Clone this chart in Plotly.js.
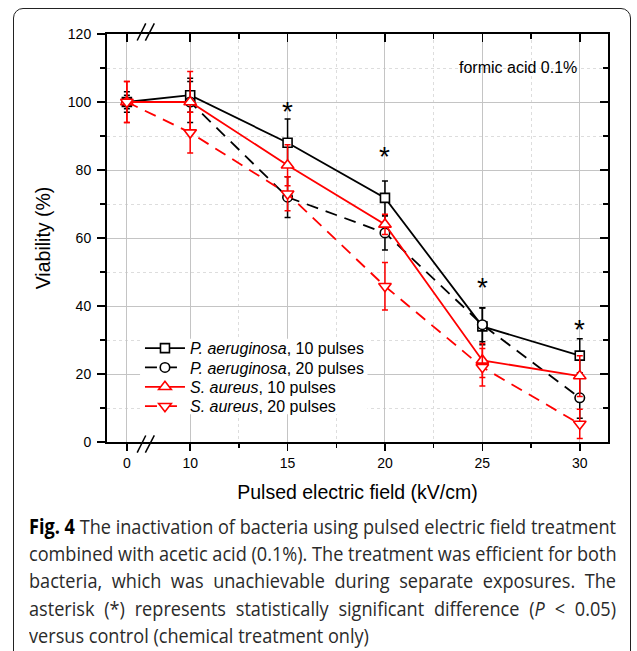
<!DOCTYPE html>
<html>
<head>
<meta charset="utf-8">
<script src="https://cdn.plot.ly/plotly-3.0.1.min.js"></script>
<style>
  html, body { margin: 0; padding: 0; background: #fff; }
  #wrap { position: relative; width: 637px; height: 651px; overflow: hidden; }
  #frame { position: absolute; left: 13px; top: 8px; width: 618px; height: 700px;
           border: 1.5px solid #222; border-radius: 10px; box-sizing: border-box; }
  #chart { position: absolute; left: 0; top: 0; width: 637px; height: 651px; }
  #caption { position: absolute; left: 29px; top: 513px; transform-origin: 0 0;
             font-family: "Open Sans", "Noto Sans", sans-serif;
             font-size: 20.5px; line-height: 27.2px; color: #2a2a2a; }
  #caption .ln { text-align: justify; text-align-last: justify; white-space: nowrap; }
  #caption .last { text-align: left; text-align-last: left; }
  #caption b { color: #000; }
  #measure { position: absolute; visibility: hidden; white-space: nowrap;
             font-family: "Open Sans", "Noto Sans", sans-serif; font-size: 20.5px; }
</style>
</head>
<body>
<div id="wrap">
  <div id="frame"></div>
  <div id="chart"></div>
  <div id="caption">
    <div class="ln"><b>Fig. 4</b> The inactivation of bacteria using pulsed electric field treatment</div>
    <div class="ln">combined with acetic acid (0.1%). The treatment was efficient for both</div>
    <div class="ln">bacteria, which was unachievable during separate exposures. The</div>
    <div class="ln">asterisk (*) represents statistically significant difference (<i>P</i> &lt; 0.05)</div>
    <div class="ln last">versus control (chemical treatment only)</div>
  </div>
  <span id="measure"><b>Fig. 4</b> The inactivation of bacteria using pulsed electric field treatment</span>
</div>
<script>
// ---- data ----
const fieldKV = [0, 10, 15, 20, 25, 30];
const pa10 = [100, 102, 88, 71.8, 34, 25.4];
const pa10Err = [2, 5, 7, 5, 5.4, 5];
const pa20 = [100, 100, 72, 61.5, 34.5, 13];
const pa20Err = [3, 6, 6, 5, 5, 6];
const sa10 = [100, 100, 81.4, 64, 24, 19.4];
const sa10Err = [6, 9, 6, 3, 5, 6];
const sa20 = [100, 91, 73, 45.8, 22, 5.3];
const sa20Err = [6, 6, 5, 7, 5.5, 4.3];
const seriesNames = ['<i>P. aeruginosa</i>, 10 pulses', '<i>P. aeruginosa</i>, 20 pulses',
                     '<i>S. aureus</i>, 10 pulses', '<i>S. aureus</i>, 20 pulses'];
const starField = [15, 20, 25, 30];
const starLevel = [97.1, 84.1, 45.3, 33.1];
const xTickLabels = ['0', '10', '15', '20', '25', '30'];
const yTickVals = [0, 20, 40, 60, 80, 100, 120];
const yMinorVals = [10, 30, 50, 70, 90, 110];
const xMinorVals = [12.5, 17.5, 22.5, 27.5];
const noteText = 'formic acid 0.1%';

// broken x axis: 0 is drawn just left of the break
const BREAK_POS = 6.75;
const xPos = v => (v === 0 ? BREAK_POS : v);
const xs = fieldKV.map(xPos);

const FONT = 'Liberation Sans, Arial, sans-serif';
const RED = '#ff0000';
const DASH = '12px,8px';
const legendIds = ['legend', 'legend2', 'legend3', 'legend4'];

function series(y, err, name, color, dash, symbol, msize, leg) {
  return {
    type: 'scatter', mode: 'lines+markers', x: xs, y: y, name: name, legend: leg,
    line: {color: color, width: 1.8, dash: dash},
    marker: {symbol: symbol, size: msize, color: '#fff', line: {color: color, width: 1.6}},
    error_y: {type: 'data', array: err, visible: true, color: color, thickness: 1.5, width: 3}
  };
}

const traces = [
  series(pa10, pa10Err, seriesNames[0], '#000', 'solid', 'square', 9, legendIds[0]),
  series(pa20, pa20Err, seriesNames[1], '#000', DASH, 'circle', 9.5, legendIds[1]),
  series(sa10, sa10Err, seriesNames[2], RED, 'solid', 'triangle-up', 11, legendIds[2]),
  series(sa20, sa20Err, seriesNames[3], RED, DASH, 'triangle-down', 11, legendIds[3]),
  {type: 'scatter', x: [], y: [], xaxis: 'x2', yaxis: 'y2', showlegend: false, hoverinfo: 'skip'}
];

const annotations = starField.map((f, i) => ({
  x: xPos(f), y: starLevel[i], xref: 'x', yref: 'y', text: '*', showarrow: false,
  font: {family: FONT, size: 28, color: '#000'}
}));
annotations.push({
  x: 29.98, y: 110.2, xref: 'x', yref: 'y', text: noteText, showarrow: false,
  xanchor: 'right', yanchor: 'middle', font: {family: FONT, size: 16, color: '#000'}
});

const X0 = 5.73, X1 = 31.45;
const shapes = [];
[[-0.026, 0.016], [0.984, 1.026]].forEach(([y0, y1]) => {
  shapes.push({type: 'line', xref: 'x', yref: 'paper', x0: 7.28, x1: 7.72, y0: y0, y1: y1,
               line: {color: '#000', width: 1.5}});
  shapes.push({type: 'line', xref: 'x', yref: 'paper', x0: 7.70, x1: 8.16, y0: y0, y1: y1,
               line: {color: '#000', width: 1.5}});
});
// white backing behind the legend block
shapes.push({type: 'rect', xref: 'paper', yref: 'paper', x0: 0.066, x1: 0.52, y0: 0.068, y1: 0.253,
             fillcolor: '#fff', line: {width: 0}, layer: 'above'});

const legendRowY = [0.2298, 0.1825, 0.1351, 0.0875];

const layout = {
  width: 637, height: 651,
  margin: {l: 107, r: 29, t: 34, b: 209, pad: 0},
  paper_bgcolor: 'rgba(0,0,0,0)', plot_bgcolor: '#fff',
  font: {family: FONT, size: 14, color: '#000'},
  showlegend: true,
  xaxis: {
    range: [X0, X1], tickmode: 'array', tickvals: xs, ticktext: xTickLabels,
    ticks: 'outside', ticklen: 7, tickwidth: 1.5, tickcolor: '#000',
    showline: true, linecolor: '#000', linewidth: 2, zeroline: false,
    showgrid: true, gridcolor: '#c4c4c4', gridwidth: 1,
    minor: {tickvals: xMinorVals, ticks: 'outside', ticklen: 4, tickwidth: 1.3, tickcolor: '#000',
            showgrid: true, gridcolor: '#dddddd', griddash: 'dot', gridwidth: 1},
    tickfont: {family: FONT, size: 14},
    title: {text: 'Pulsed electric field (kV/cm)', font: {family: FONT, size: 19.5}, standoff: 16}
  },
  yaxis: {
    range: [0, 120], tickmode: 'array', tickvals: yTickVals,
    ticks: 'outside', ticklen: 8, tickwidth: 1.5, tickcolor: '#000',
    showline: true, linecolor: '#000', linewidth: 2, zeroline: false,
    showgrid: true, gridcolor: '#c4c4c4', gridwidth: 1,
    minor: {tickvals: yMinorVals, ticks: 'outside', ticklen: 5, tickwidth: 1.3, tickcolor: '#000',
            showgrid: true, gridcolor: '#dddddd', griddash: 'dot', gridwidth: 1},
    tickfont: {family: FONT, size: 14}, ticklabelstandoff: 3,
    title: {text: 'Viability (%)', font: {family: FONT, size: 19.5}, standoff: 12}
  },
  xaxis2: {
    overlaying: 'x', side: 'top', anchor: 'y2', range: [X0, X1],
    tickmode: 'array', tickvals: xs, showticklabels: false,
    ticks: 'inside', ticklen: 8, tickwidth: 1.5, tickcolor: '#000',
    showline: true, linecolor: '#000', linewidth: 2, showgrid: false, zeroline: false,
    minor: {tickvals: xMinorVals, ticks: 'inside', ticklen: 5, tickwidth: 1.3, tickcolor: '#000', showgrid: false}
  },
  yaxis2: {
    overlaying: 'y', side: 'right', anchor: 'x2', range: [0, 120],
    tickmode: 'array', tickvals: yTickVals, showticklabels: false,
    ticks: 'inside', ticklen: 8, tickwidth: 1.5, tickcolor: '#000',
    showline: true, linecolor: '#000', linewidth: 2, showgrid: false, zeroline: false,
    minor: {tickvals: yMinorVals, ticks: 'inside', ticklen: 5, tickwidth: 1.3, tickcolor: '#000', showgrid: false}
  },
  annotations: annotations,
  shapes: shapes
};
legendIds.forEach((id, i) => {
  layout[id] = {x: 0.0658, y: legendRowY[i], xanchor: 'left', yanchor: 'middle',
                bgcolor: 'rgba(0,0,0,0)', borderwidth: 0,
                font: {family: FONT, size: 16, color: '#000'}, itemwidth: 40};
});

Plotly.newPlot('chart', traces, layout, {displayModeBar: false, staticPlot: true});

// condense the caption horizontally so its first line spans the reference width
(function fitCaption() {
  const target = 587;
  const natural = document.getElementById('measure').getBoundingClientRect().width;
  const s = target / natural;
  const cap = document.getElementById('caption');
  cap.style.width = natural + 'px';
  cap.style.transform = 'scaleX(' + s + ')';
})();
</script>
</body>
</html>
